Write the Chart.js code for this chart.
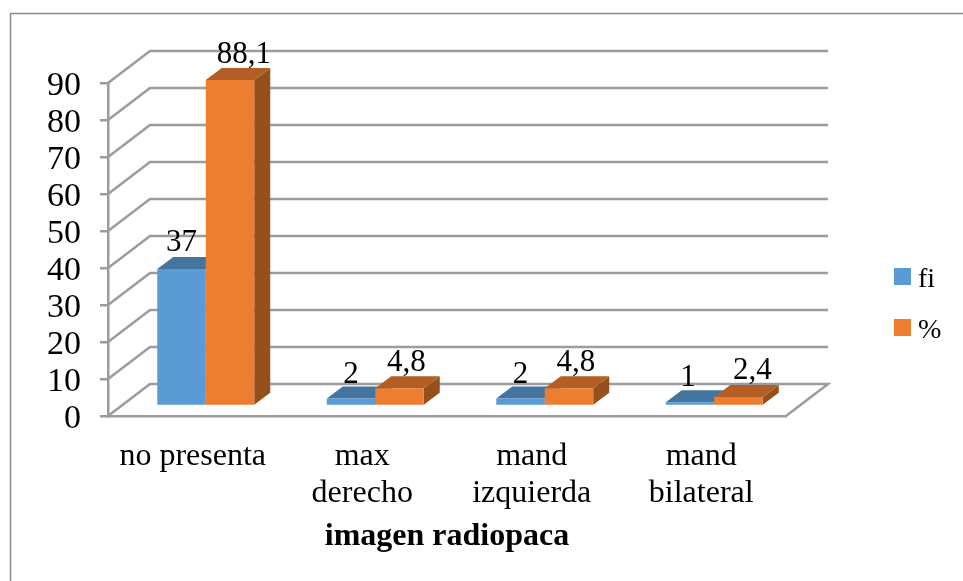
<!DOCTYPE html>
<html>
<head>
<meta charset="utf-8">
<style>
  html, body { margin: 0; padding: 0; background: #fff; }
  #wrap { position: relative; width: 963px; height: 581px; }
</style>
<script src="https://cdn.jsdelivr.net/npm/chart.js@4"></script>
</head>
<body>
<div id="wrap"><canvas id="chart"></canvas></div>
<script>
const categories = ['no presenta', ['max', 'derecho'], ['mand', 'izquierda'], ['mand', 'bilateral']];
const fiValues = [37, 2, 2, 1];
const pctValues = [88.1, 4.8, 4.8, 2.4];
const yTicks = [0, 10, 20, 30, 40, 50, 60, 70, 80, 90];

const SERIF = '"Liberation Serif", "Times New Roman", serif';
const GRID = '#9c9c9c';

// depth of the wall and of the bars, and where the bars sit inside it
const WALL = { x: 42, y: 32 };
const BAR_DEPTH = { x: 16, y: 12 };
const BAR_SHIFT = { x: 13, y: -10 };
// the labels do not sit dead centre on the bars in the original
const labelNudge = [[0, 0, 0, -2], [14, 7, 7, 14]];
const labelLift = [[6, 4, 4, 4], [5, 5, 5, 6]];

const shade = [
  { top: '#44759f', side: '#3a6489' },
  { top: '#b35e24', side: '#95501c' }
];

const wallPlugin = {
  id: 'wall',
  beforeDatasetsDraw(chart) {
    const { ctx, chartArea: a, scales: { y } } = chart;
    ctx.save();
    ctx.strokeStyle = GRID;
    ctx.lineWidth = 2.5;
    ctx.lineJoin = 'miter';
    yTicks.forEach(t => {
      const py = y.getPixelForValue(t);
      ctx.beginPath();
      ctx.moveTo(a.left, py);
      ctx.lineTo(a.left + WALL.x, py - WALL.y);
      ctx.lineTo(a.right + WALL.x, py - WALL.y);
      if (t === 0) ctx.lineTo(a.right, py);
      ctx.stroke();
    });
    ctx.restore();
  },
  // bars are painted below, left series first, so the right one covers its side face
  beforeDatasetDraw() {
    return false;
  },
  afterDatasetsDraw(chart) {
    const { ctx } = chart;
    ctx.save();
    ctx.translate(BAR_SHIFT.x, BAR_SHIFT.y);
    chart.data.datasets.forEach((ds, i) => {
      const s = shade[i];
      chart.getDatasetMeta(i).data.forEach(bar => {
        const l = bar.x - bar.width / 2, r = bar.x + bar.width / 2;
        const dx = BAR_DEPTH.x, dy = BAR_DEPTH.y;
        ctx.fillStyle = s.side;
        ctx.beginPath();
        ctx.moveTo(r, bar.y);
        ctx.lineTo(r + dx, bar.y - dy);
        ctx.lineTo(r + dx, bar.base - dy);
        ctx.lineTo(r, bar.base);
        ctx.closePath();
        ctx.fill();
        ctx.fillStyle = s.top;
        ctx.beginPath();
        ctx.moveTo(l, bar.y);
        ctx.lineTo(l + dx, bar.y - dy);
        ctx.lineTo(r + dx, bar.y - dy);
        ctx.lineTo(r, bar.y);
        ctx.closePath();
        ctx.fill();
        bar.draw(ctx);
      });
    });
    ctx.restore();

    ctx.save();
    ctx.fillStyle = '#000';
    ctx.font = '31px ' + SERIF;
    ctx.textAlign = 'center';
    ctx.textBaseline = 'alphabetic';
    chart.data.datasets.forEach((ds, i) => {
      chart.getDatasetMeta(i).data.forEach((bar, j) => {
        const txt = String(ds.data[j]).replace('.', ',');
        ctx.fillText(txt, bar.x + BAR_SHIFT.x + labelNudge[i][j], bar.y + BAR_SHIFT.y - BAR_DEPTH.y - labelLift[i][j]);
      });
    });
    ctx.restore();
  },
  afterDraw(chart) {
    const { ctx } = chart;
    ctx.save();
    // outer frame, only top and left are in the picture
    ctx.strokeStyle = '#8c8c8c';
    ctx.lineWidth = 1.5;
    ctx.beginPath();
    ctx.moveTo(10.5, 581);
    ctx.lineTo(10.5, 13.5);
    ctx.lineTo(963, 13.5);
    ctx.stroke();
    // legend
    ctx.font = '28px ' + SERIF;
    ctx.textBaseline = 'alphabetic';
    ctx.textAlign = 'left';
    chart.data.datasets.forEach((ds, i) => {
      const ty = 268 + i * 51;
      ctx.fillStyle = ds.backgroundColor;
      ctx.fillRect(894, ty, 17, 17);
      ctx.fillStyle = '#000';
      ctx.fillText(ds.label, 918, ty + 19);
    });
    ctx.restore();
  }
};

new Chart(document.getElementById('chart'), {
  type: 'bar',
  data: {
    labels: categories,
    datasets: [
      { label: 'fi', data: fiValues, backgroundColor: '#5b9bd5' },
      { label: '%', data: pctValues, backgroundColor: '#ed7d31' }
    ]
  },
  options: {
    responsive: true,
    maintainAspectRatio: false,
    animation: false,
    layout: { padding: { top: 83, right: 177, left: 0, bottom: 0 } },
    datasets: { bar: { categoryPercentage: 0.572, barPercentage: 1 } },
    plugins: {
      legend: { display: false },
      tooltip: { enabled: false }
    },
    scales: {
      x: {
        afterFit(axis) { axis.height = 165; },
        grid: { drawOnChartArea: false, drawTicks: false },
        border: { color: GRID, width: 2.5 },
        ticks: {
          color: '#000',
          padding: 22,
          maxRotation: 0,
          autoSkip: false,
          font: { family: SERIF, size: 32, lineHeight: 1.16 }
        },
        title: {
          display: true,
          text: 'imagen radiopaca',
          color: '#000',
          padding: { top: 0, bottom: 25 },
          font: { family: SERIF, size: 32, weight: 'bold' }
        }
      },
      y: {
        min: 0,
        max: 90,
        afterFit(axis) { axis.width = 108; },
        grid: { drawOnChartArea: false, color: GRID, lineWidth: 2.5, tickLength: 8 },
        border: { color: GRID, width: 2.5 },
        ticks: {
          color: '#000',
          stepSize: 10,
          autoSkip: false,
          padding: 19,
          labelOffset: 3,
          font: { family: SERIF, size: 34 }
        }
      }
    }
  },
  plugins: [wallPlugin]
});
</script>
</body>
</html>
